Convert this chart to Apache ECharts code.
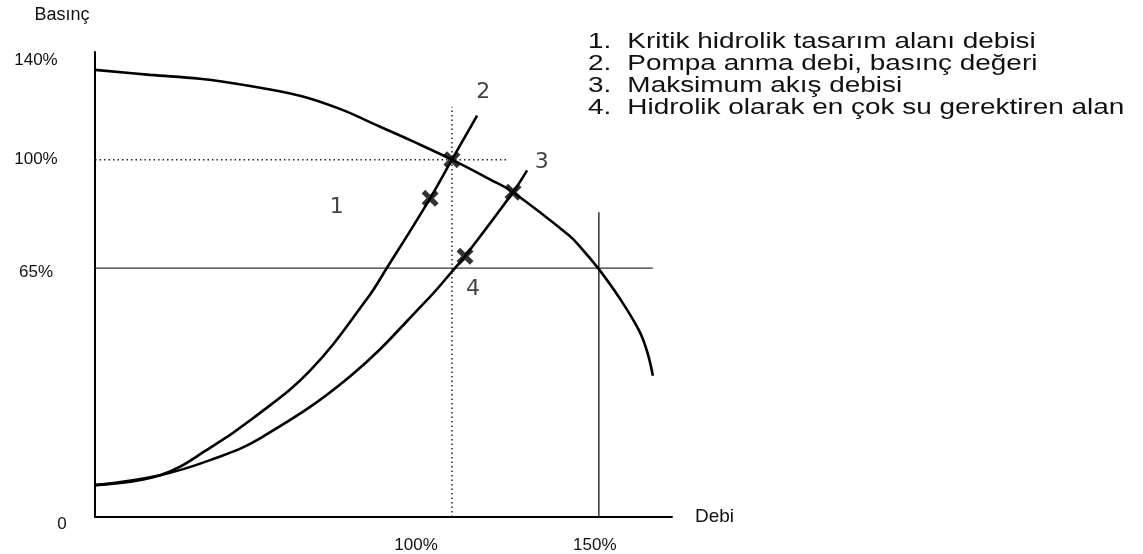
<!DOCTYPE html>
<html>
<head>
<meta charset="utf-8">
<script src="https://cdn.jsdelivr.net/npm/echarts@6/dist/echarts.min.js"></script>
<style>
  html, body { margin: 0; padding: 0; background: #fff; }
  #main { width: 1143px; height: 554px; }
</style>
</head>
<body>
<div id="main"></div>
<script>
// pompa eğrisi (debi %, basınç birimi)
var pumpCurve = [[0, 125], [16.4, 123.6], [31.3, 122.5], [46.2, 120.5], [61.1, 117.8], [73, 114.1],
  [85, 109.1], [94.8, 105], [106.4, 99.9], [117.7, 94.4], [124.6, 90.8], [141.6, 78.5],
  [145.2, 74.9], [150.2, 69.3], [156.5, 61], [162.2, 52.1], [164.6, 46.2], [166.3, 39.5]];
// sistem eğrileri
var systemCurve1 = [[0, 8.9], [19.4, 11.7], [34.3, 19.3], [47.1, 27.6], [64.1, 40.9], [81.1, 61],
  [87, 69.6], [99.9, 89.1], [106.4, 99.9], [113.9, 112.2]];
var systemCurve2 = [[0, 8.9], [19.4, 11.7], [34.3, 15.9], [49.2, 22], [76, 39.3], [99.3, 61],
  [107.3, 69.6], [110.3, 72.9], [124.6, 90.8], [128.8, 96.9]];
var crossPoints = [[99.9, 89.1], [106.4, 99.9], [124.6, 90.8], [110.3, 72.9]];
var numberLabels = [['1', 72.1, 86.6], ['2', 115.7, 118.6], ['3', 133.2, 99.1], ['4', 112.7, 63.8]];

var yTickValues = [0, 68.5, 100, 127.8];
var yTickLabels = ['0', '65%', '100%', '140%'];
var xTickValues = [95.7, 149];
var xTickLabels = ['100%', '150%'];

var notes = [
  'Kritik hidrolik tasarım alanı debisi',
  'Pompa anma debi, basınç değeri',
  'Maksimum akış debisi',
  'Hidrolik olarak en çok su gerektiren alan'
];

var myChart = echarts.init(document.getElementById('main'));

var cross = 'path://M0,3 L3,0 L7,4 L11,0 L14,3 L10,7 L14,11 L11,14 L7,10 L3,14 L0,11 L4,7 Z';

// açıklama satırları (yatayda biraz geniş yazı)
var noteItems = [];
notes.forEach(function (t, i) {
  noteItems.push({
    type: 'text', x: 0, y: i * 22,
    style: { text: (i + 1) + '.', fontSize: 22, fill: '#111', fontFamily: 'Liberation Sans' }
  });
  noteItems.push({
    type: 'text', x: 31, y: i * 22,
    style: { text: t, fontSize: 22, fill: '#111', fontFamily: 'Liberation Sans' }
  });
});

var option = {
  animation: false,
  backgroundColor: '#fff',
  textStyle: { fontFamily: 'Liberation Sans' },
  graphic: [{
    type: 'group', x: 588, y: 31, scaleX: 1.27,
    children: noteItems
  }],
  grid: { left: 95, right: 471, top: 52, bottom: 35 },
  xAxis: {
    type: 'value',
    min: 0,
    max: 172,
    name: 'Debi',
    nameLocation: 'end',
    nameGap: 23,
    nameTextStyle: { fontSize: 19, color: '#111', align: 'left', verticalAlign: 'middle', padding: [6, 0, 0, 0] },
    splitLine: { show: false },
    axisLine: { show: true, lineStyle: { color: '#000', width: 2 } },
    axisTick: { show: false },
    axisLabel: {
      customValues: xTickValues,
      margin: 20,
      fontSize: 17,
      color: '#111',
      formatter: function (v) { return xTickLabels[xTickValues.indexOf(v)]; }
    }
  },
  yAxis: {
    type: 'value',
    min: 0,
    max: 130,
    name: 'Basınç',
    nameLocation: 'end',
    nameGap: 28,
    nameTextStyle: { fontSize: 18, color: '#111', align: 'center', padding: [0, 66, 0, 0] },
    splitLine: { show: false },
    axisLine: { show: true, lineStyle: { color: '#000', width: 2 } },
    axisTick: { show: false },
    axisLabel: {
      customValues: yTickValues,
      margin: 59,
      align: 'center',
      fontSize: 17,
      color: '#111',
      formatter: function (v) {
        var s = yTickLabels[yTickValues.indexOf(v)];
        return s === '0' ? '{z|0}' : s;
      },
      rich: { z: { fontSize: 17, color: '#111', padding: [14, 0, 0, 52] } }
    }
  },
  series: [
    {
      type: 'line', data: [[0, 99.9], [122.8, 99.9]], symbol: 'none', silent: true,
      lineStyle: { color: '#222', width: 1.5, type: [1.5, 3] }
    },
    {
      type: 'line', data: [[106.4, 0], [106.4, 114.7]], symbol: 'none', silent: true,
      lineStyle: { color: '#222', width: 1.5, type: [1.5, 3] }
    },
    {
      type: 'line', data: [[0, 69.6], [166.3, 69.6]], symbol: 'none', silent: true,
      lineStyle: { color: '#333', width: 1.3 }
    },
    {
      type: 'line', data: [[150.2, 0], [150.2, 85.2]], symbol: 'none', silent: true,
      lineStyle: { color: '#111', width: 1.3 }
    },
    {
      name: 'Pompa', type: 'line', data: pumpCurve, smooth: 0.4, symbol: 'none',
      lineStyle: { color: '#000', width: 2.6 }
    },
    {
      name: 'Sistem 1', type: 'line', data: systemCurve1, smooth: 0.4, symbol: 'none',
      lineStyle: { color: '#000', width: 2.6 }
    },
    {
      name: 'Sistem 2', type: 'line', data: systemCurve2, smooth: 0.4, symbol: 'none',
      lineStyle: { color: '#000', width: 2.6 }
    },
    {
      type: 'scatter', data: crossPoints, symbol: cross, symbolSize: 17,
      itemStyle: { color: '#000' }
    },
    {
      type: 'scatter', symbolSize: 0,
      data: numberLabels.map(function (d) { return { value: [d[1], d[2]], name: d[0] }; }),
      label: {
        show: true, position: 'inside', formatter: '{b}',
        fontSize: 22, color: '#111', fontFamily: 'DejaVu Sans'
      }
    }
  ]
};

myChart.setOption(option);
</script>
</body>
</html>
